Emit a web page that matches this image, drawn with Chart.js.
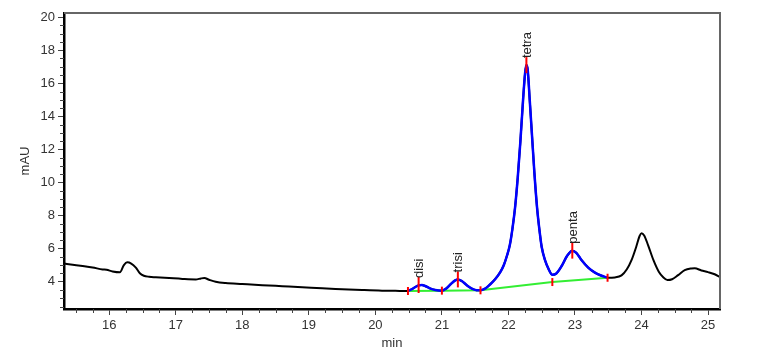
<!DOCTYPE html>
<html>
<head>
<meta charset="utf-8">
<script src="https://cdn.jsdelivr.net/npm/chart.js@4.4.1/dist/chart.umd.min.js"></script>
<style>
  html, body { margin: 0; padding: 0; background: #fff; }
  #wrap { width: 767px; height: 353px; }
</style>
</head>
<body>
<div id="wrap"><canvas id="chrom"></canvas></div>
<script>
// ---- data ----
const times = [
  15.32, 15.45, 15.6, 15.75, 15.9, 15.96, 16.05, 16.16, 16.22, 16.27, 16.33, 16.4, 16.46, 16.52,
  16.6, 16.7, 16.9, 17.1, 17.3, 17.38, 17.43, 17.5, 17.6, 17.75, 18.0, 18.3, 18.6, 18.9, 19.2,
  19.5, 19.8, 20.1, 20.3, 20.49, 20.55, 20.6, 20.65, 20.7, 20.75, 20.82, 20.9, 21.0, 21.07,
  21.14, 21.2, 21.24, 21.3, 21.37, 21.45, 21.52, 21.58, 21.65, 21.72, 21.8, 21.88, 21.93, 21.98,
  22.02, 22.06, 22.1, 22.14, 22.18, 22.22, 22.25, 22.27, 22.29, 22.32, 22.355, 22.39, 22.43,
  22.47, 22.5, 22.55, 22.6, 22.66, 22.72, 22.8, 22.88, 22.96, 23.02, 23.1, 23.2, 23.3, 23.4,
  23.49, 23.6, 23.7, 23.78, 23.85, 23.92, 23.97, 24.0, 24.04, 24.1, 24.18, 24.26, 24.33, 24.39,
  24.46, 24.55, 24.65, 24.75, 24.8, 24.9, 25.0, 25.1, 25.18
];
const mAU = [
  5.1, 5.03, 4.95, 4.86, 4.74, 4.72, 4.62, 4.57, 5.0, 5.17, 5.1, 4.85, 4.51, 4.36,
  4.3, 4.27, 4.22, 4.17, 4.14, 4.2, 4.22, 4.12, 4.0, 3.92, 3.86, 3.79, 3.73, 3.67, 3.6,
  3.55, 3.5, 3.46, 3.45, 3.44, 3.55, 3.68, 3.78, 3.8, 3.74, 3.6, 3.5, 3.46, 3.6,
  3.88, 4.08, 4.14, 4.04, 3.8, 3.58, 3.49, 3.48, 3.58, 3.82, 4.15, 4.6, 5.0, 5.6,
  6.2, 7.2, 8.5, 10.3, 12.5, 15.0, 16.6, 17.1, 16.8, 15.0, 12.8, 10.6, 8.5,
  7.0, 6.1, 5.3, 4.8, 4.42, 4.5, 4.95, 5.55, 5.88, 5.75, 5.3, 4.85, 4.55, 4.36,
  4.24, 4.26, 4.38, 4.75, 5.3, 6.1, 6.75, 6.93, 6.8, 6.2, 5.3, 4.6, 4.25, 4.1,
  4.15, 4.4, 4.7, 4.8, 4.81, 4.68, 4.58, 4.45, 4.27
];

// integration boundaries (green baseline)
const boundTimes = [20.49, 21.0, 21.58, 22.66, 23.49];
const boundVals  = [3.44, 3.46, 3.48, 3.98, 4.24];

// peak apexes
const peakNames = ['disi', 'trisi', 'tetra', 'penta'];
const peakTimes = [20.65, 21.24, 22.27, 22.96];
const peakVals  = [3.8, 4.14, 17.1, 5.88];

const xTicks = [16, 17, 18, 19, 20, 21, 22, 23, 24, 25];
const yTicks = [4, 6, 8, 10, 12, 14, 16, 18, 20];

// ---- build datasets ----
const trace = times.map((t, i) => ({ x: t, y: mAU[i] }));
const integrated = trace.filter(p => p.x >= boundTimes[0] && p.x <= boundTimes[boundTimes.length - 1]);
const baseline = boundTimes.map((t, i) => ({ x: t, y: boundVals[i] }));
const apexes = peakTimes.map((t, i) => ({ x: t, y: peakVals[i] }));

Chart.defaults.font.family = "'Liberation Sans', Arial, sans-serif";
Chart.defaults.font.size = 13;
Chart.defaults.color = '#333';

// minor ticks, outer frame and peak names
const decor = {
  id: 'decor',
  afterDatasetsDraw(chart) {
    const { ctx, chartArea: a, scales: { x, y } } = chart;
    ctx.save();
    ctx.strokeStyle = '#444';
    ctx.lineWidth = 1;
    ctx.beginPath();
    for (let k = 61; k <= 101; k++) {
      const v = k / 4;
      if (k % 4 === 0 || v < x.min || v > x.max) continue;
      const px = Math.round(x.getPixelForValue(v)) + 0.5;
      ctx.moveTo(px, a.bottom); ctx.lineTo(px, a.bottom + 4);
    }
    for (let k = 5; k <= 40; k++) {
      const v = k / 2;
      if (v % 2 === 0 || v < y.min || v > y.max) continue;
      const py = Math.round(y.getPixelForValue(v)) + 0.5;
      ctx.moveTo(a.left - 4, py); ctx.lineTo(a.left, py);
    }
    ctx.stroke();

    // top / right frame
    ctx.strokeStyle = '#666';
    ctx.lineWidth = 2;
    ctx.beginPath();
    ctx.moveTo(a.left, a.top); ctx.lineTo(a.right, a.top); ctx.lineTo(a.right, a.bottom);
    ctx.stroke();

    // peak labels, rotated
    ctx.fillStyle = '#222';
    ctx.font = "13px 'Liberation Sans', Arial, sans-serif";
    ctx.textAlign = 'left';
    ctx.textBaseline = 'middle';
    peakNames.forEach((name, i) => {
      const px = x.getPixelForValue(peakTimes[i]);
      const py = y.getPixelForValue(peakVals[i]);
      ctx.save();
      ctx.translate(px + 1, py - 7);
      ctx.rotate(-Math.PI / 2);
      ctx.fillText(name, 0, 0);
      ctx.restore();
    });
    ctx.restore();
  }
};

new Chart(document.getElementById('chrom'), {
  type: 'line',
  data: {
    datasets: [
      {
        data: apexes,
        showLine: false,
        pointStyle: 'line',
        rotation: 90,
        pointRadius: 8,
        pointBorderColor: '#ff0000',
        pointBorderWidth: 2,
        order: 0
      },
      {
        data: baseline,
        showLine: false,
        pointStyle: 'line',
        rotation: 90,
        pointRadius: 4,
        pointBorderColor: '#ff0000',
        pointBorderWidth: 2,
        order: 1
      },
      {
        data: integrated,
        borderColor: '#0000ff',
        borderWidth: 2.5,
        pointRadius: 0,
        cubicInterpolationMode: 'monotone',
        order: 2
      },
      {
        data: baseline,
        borderColor: '#33ee33',
        borderWidth: 2,
        pointRadius: 0,
        tension: 0,
        order: 3
      },
      {
        data: trace,
        borderColor: '#000',
        borderWidth: 2,
        pointRadius: 0,
        cubicInterpolationMode: 'monotone',
        order: 4
      }
    ]
  },
  options: {
    responsive: true,
    maintainAspectRatio: false,
    animation: false,
    layout: { padding: { top: 13, right: 47, left: 0, bottom: 0 } },
    plugins: { legend: { display: false }, tooltip: { enabled: false } },
    scales: {
      x: {
        type: 'linear',
        min: 15.32,
        max: 25.18,
        afterBuildTicks: s => { s.ticks = xTicks.map(v => ({ value: v })); },
        afterFit: s => { s.height = 44; },
        ticks: { maxRotation: 0, autoSkip: false, padding: 3, color: '#333' },
        grid: { drawOnChartArea: false, tickLength: 6, color: '#444', tickWidth: 1 },
        border: { color: '#000', width: 2.5 },
        title: { display: true, text: 'min', color: '#333', font: { size: 13 }, padding: { top: 0, bottom: 2 } }
      },
      y: {
        type: 'linear',
        min: 2.35,
        max: 20.25,
        afterBuildTicks: s => { s.ticks = yTicks.map(v => ({ value: v })); },
        afterFit: s => { s.width = 64; },
        ticks: { padding: 3, color: '#333' },
        grid: { drawOnChartArea: false, tickLength: 6, color: '#444', tickWidth: 1 },
        border: { color: '#000', width: 2.5 },
        title: { display: true, text: 'mAU', color: '#333', font: { size: 13 }, padding: { top: 18, bottom: 0 } }
      }
    }
  },
  plugins: [decor]
});
</script>
</body>
</html>
